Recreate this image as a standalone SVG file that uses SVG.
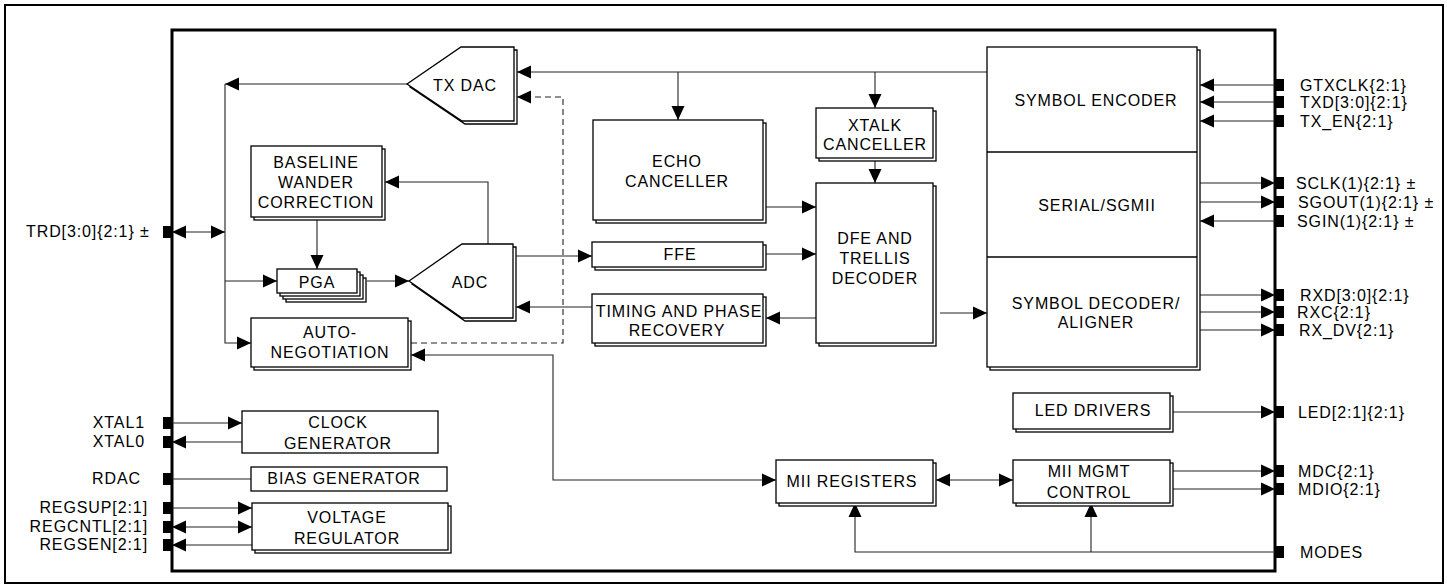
<svg xmlns="http://www.w3.org/2000/svg" width="1447" height="588" viewBox="0 0 1447 588">
<style>
text{font-family:"Liberation Sans",Arial,Helvetica,sans-serif;font-size:16px;letter-spacing:0.9px;fill:#000}
.c{text-anchor:middle}
.e{text-anchor:end}
.bx{fill:#fff;stroke:#000;stroke-width:1.3}
.ln{fill:none;stroke:#222;stroke-width:1.1}
.ds{fill:none;stroke:#222;stroke-width:1.1;stroke-dasharray:6,4}
.pin{fill:#000}
</style>
<defs>
<marker id="a" markerUnits="userSpaceOnUse" markerWidth="14" markerHeight="14" refX="14" refY="7" orient="auto-start-reverse">
<path d="M0,0.5 L14,7 L0,13.5 z" fill="#000"/>
</marker>
</defs>
<rect x="5" y="5" width="1438" height="578" fill="#fff" stroke="#000" stroke-width="2"/>
<rect x="172" y="30" width="1103" height="541" fill="none" stroke="#000" stroke-width="3"/>

<g id="connectors">
<path class="ln" d="M987,72 H517" marker-end="url(#a)"/>
<path class="ln" d="M678,72 V120" marker-end="url(#a)"/>
<path class="ln" d="M875,72 V108" marker-end="url(#a)"/>
<path class="ln" d="M407,84 H225" marker-end="url(#a)"/>
<path class="ln" d="M225,84 V343 H251" marker-end="url(#a)"/>
<path class="ln" d="M225,281 H277" marker-end="url(#a)"/>
<path class="ln" d="M172,232 H225" marker-start="url(#a)" marker-end="url(#a)"/>
<path class="ds" d="M411,343 H563 V97 H517" marker-end="url(#a)"/>
<path class="ln" d="M488,244 V182 H385" marker-end="url(#a)"/>
<path class="ln" d="M317,220 V269" marker-end="url(#a)"/>
<path class="ln" d="M367,281 H409" marker-end="url(#a)"/>
<path class="ln" d="M516,256 H592" marker-end="url(#a)"/>
<path class="ln" d="M592,307 H516" marker-end="url(#a)"/>
<path class="ln" d="M766,207 H816" marker-end="url(#a)"/>
<path class="ln" d="M766,254 H816" marker-end="url(#a)"/>
<path class="ln" d="M816,318 H766" marker-end="url(#a)"/>
<path class="ln" d="M875,161 V183" marker-end="url(#a)"/>
<path class="ln" d="M940,313 H987" marker-end="url(#a)"/>
<path class="ln" d="M1275,85 H1200" marker-end="url(#a)"/>
<path class="ln" d="M1275,102 H1200" marker-end="url(#a)"/>
<path class="ln" d="M1275,121 H1200" marker-end="url(#a)"/>
<path class="ln" d="M1200,183 H1275" marker-end="url(#a)"/>
<path class="ln" d="M1200,202 H1275" marker-end="url(#a)"/>
<path class="ln" d="M1275,221 H1200" marker-end="url(#a)"/>
<path class="ln" d="M1200,295 H1275" marker-end="url(#a)"/>
<path class="ln" d="M1200,312 H1275" marker-end="url(#a)"/>
<path class="ln" d="M1200,330 H1275" marker-end="url(#a)"/>
<path class="ln" d="M1173,412 H1275" marker-end="url(#a)"/>
<path class="ln" d="M1173,471 H1275" marker-end="url(#a)"/>
<path class="ln" d="M1173,489 H1275" marker-end="url(#a)"/>
<path class="ln" d="M1275,552 H855 V503" marker-end="url(#a)"/>
<path class="ln" d="M1091,552 V503" marker-end="url(#a)"/>
<path class="ln" d="M936,480 H1013" marker-start="url(#a)" marker-end="url(#a)"/>
<path class="ln" d="M411,355 H553 V480 H776" marker-start="url(#a)" marker-end="url(#a)"/>
<path class="ln" d="M172,423 H242" marker-end="url(#a)"/>
<path class="ln" d="M250,442 H172" marker-end="url(#a)"/>
<path class="ln" d="M172,479 H251"/>
<path class="ln" d="M172,508 H252" marker-end="url(#a)"/>
<path class="ln" d="M172,527 H252" marker-start="url(#a)" marker-end="url(#a)"/>
<path class="ln" d="M252,545 H172" marker-end="url(#a)"/>
</g>

<g id="pins">
<rect class="pin" x="163" y="226" width="9" height="12"/>
<rect class="pin" x="163" y="417" width="9" height="12"/>
<rect class="pin" x="163" y="436" width="9" height="12"/>
<rect class="pin" x="163" y="473" width="9" height="12"/>
<rect class="pin" x="163" y="502" width="9" height="12"/>
<rect class="pin" x="163" y="521" width="9" height="12"/>
<rect class="pin" x="163" y="539" width="9" height="12"/>
<rect class="pin" x="1275" y="79" width="9" height="12"/>
<rect class="pin" x="1275" y="96" width="9" height="12"/>
<rect class="pin" x="1275" y="115" width="9" height="12"/>
<rect class="pin" x="1275" y="177" width="9" height="12"/>
<rect class="pin" x="1275" y="196" width="9" height="12"/>
<rect class="pin" x="1275" y="215" width="9" height="12"/>
<rect class="pin" x="1275" y="289" width="9" height="12"/>
<rect class="pin" x="1275" y="306" width="9" height="12"/>
<rect class="pin" x="1275" y="324" width="9" height="12"/>
<rect class="pin" x="1275" y="406" width="9" height="12"/>
<rect class="pin" x="1275" y="465" width="9" height="12"/>
<rect class="pin" x="1275" y="483" width="9" height="12"/>
<rect class="pin" x="1275" y="546" width="9" height="12"/>
</g>

<g id="pin-labels">
<text x="26" y="237">TRD[3:0]{2:1} ±</text>
<text class="e" x="145" y="428">XTAL1</text>
<text class="e" x="145" y="447">XTAL0</text>
<text class="e" x="141" y="484">RDAC</text>
<text class="e" x="148" y="513">REGSUP[2:1]</text>
<text class="e" x="148" y="532">REGCNTL[2:1]</text>
<text class="e" x="148" y="550">REGSEN[2:1]</text>
<text x="1300" y="91">GTXCLK{2:1}</text>
<text x="1300" y="108">TXD[3:0]{2:1}</text>
<text x="1300" y="127">TX_EN{2:1}</text>
<text x="1296" y="189">SCLK(1){2:1}  ±</text>
<text x="1298" y="208">SGOUT(1){2:1} ±</text>
<text x="1297" y="227">SGIN(1){2:1} ±</text>
<text x="1300" y="301">RXD[3:0]{2:1}</text>
<text x="1297" y="318">RXC{2:1}</text>
<text x="1299" y="336">RX_DV{2:1}</text>
<text x="1298" y="418">LED[2:1]{2:1}</text>
<text x="1298" y="477">MDC{2:1}</text>
<text x="1298" y="495">MDIO{2:1}</text>
<text x="1300" y="558">MODES</text>
</g>

<g id="txdac">
<path class="bx" d="M410,87 L464,50 H517 V124 H465 z"/>
<path class="bx" d="M407,84 L461,47 H514 V121 H462 z"/>
<text class="c" x="465" y="91">TX DAC</text>
</g>
<g id="baseline">
<rect class="bx" x="254" y="149" width="131" height="71"/>
<rect class="bx" x="251" y="146" width="131" height="71"/>
<text class="c" x="316" y="168">BASELINE</text>
<text class="c" x="316" y="188">WANDER</text>
<text class="c" x="316" y="208">CORRECTION</text>
</g>
<g id="pga">
<rect class="bx" x="286" y="278" width="80" height="24"/>
<rect class="bx" x="283" y="275" width="80" height="24"/>
<rect class="bx" x="280" y="272" width="80" height="24"/>
<rect class="bx" x="277" y="269" width="80" height="24"/>
<text class="c" x="317" y="288">PGA</text>
</g>
<g id="adc">
<path class="bx" d="M412,284 L465,247 H516 V321 H465 z"/>
<path class="bx" d="M409,281 L462,244 H513 V318 H462 z"/>
<text class="c" x="470" y="288">ADC</text>
</g>
<g id="autoneg">
<rect class="bx" x="254" y="321" width="157" height="49"/>
<rect class="bx" x="251" y="318" width="157" height="49"/>
<text class="c" x="330" y="338">AUTO-</text>
<text class="c" x="330" y="358">NEGOTIATION</text>
</g>
<g id="echo">
<rect class="bx" x="596" y="123" width="170" height="100"/>
<rect class="bx" x="593" y="120" width="170" height="100"/>
<text class="c" x="677" y="167">ECHO</text>
<text class="c" x="677" y="187">CANCELLER</text>
</g>
<g id="xtalk">
<rect class="bx" x="819" y="111" width="117" height="50"/>
<rect class="bx" x="816" y="108" width="117" height="50"/>
<text class="c" x="875" y="131">XTALK</text>
<text class="c" x="875" y="150">CANCELLER</text>
</g>
<g id="ffe">
<rect class="bx" x="595" y="245" width="171" height="25"/>
<rect class="bx" x="592" y="242" width="171" height="25"/>
<text class="c" x="680" y="260">FFE</text>
</g>
<g id="timing">
<rect class="bx" x="595" y="297" width="171" height="49"/>
<rect class="bx" x="592" y="294" width="171" height="49"/>
<text class="c" x="679" y="317">TIMING AND PHASE</text>
<text class="c" x="677" y="336">RECOVERY</text>
</g>
<g id="dfe">
<rect class="bx" x="819" y="186" width="117" height="160"/>
<rect class="bx" x="816" y="183" width="117" height="160"/>
<text class="c" x="875" y="244">DFE AND</text>
<text class="c" x="875" y="264">TRELLIS</text>
<text class="c" x="875" y="284">DECODER</text>
</g>
<g id="symbol">
<rect class="bx" x="990" y="50" width="210" height="320"/>
<rect class="bx" x="987" y="47" width="210" height="320"/>
<line x1="987" y1="152" x2="1197" y2="152" stroke="#000" stroke-width="1.3"/>
<line x1="987" y1="257" x2="1197" y2="257" stroke="#000" stroke-width="1.3"/>
<text class="c" x="1096" y="106">SYMBOL ENCODER</text>
<text class="c" x="1097" y="211">SERIAL/SGMII</text>
<text class="c" x="1096" y="309">SYMBOL DECODER/</text>
<text class="c" x="1096" y="328">ALIGNER</text>
</g>
<g id="led">
<rect class="bx" x="1016" y="396" width="157" height="36"/>
<rect class="bx" x="1013" y="393" width="157" height="36"/>
<text class="c" x="1093" y="416">LED DRIVERS</text>
</g>
<g id="miireg">
<rect class="bx" x="779" y="463" width="157" height="43"/>
<rect class="bx" x="776" y="460" width="157" height="43"/>
<text class="c" x="852" y="487">MII REGISTERS</text>
</g>
<g id="miimgmt">
<rect class="bx" x="1016" y="463" width="157" height="43"/>
<rect class="bx" x="1013" y="460" width="157" height="43"/>
<text class="c" x="1089" y="477">MII MGMT</text>
<text class="c" x="1089" y="498">CONTROL</text>
</g>
<g id="clock">
<rect class="bx" x="242" y="411" width="196" height="42"/>
<text class="c" x="338" y="428">CLOCK</text>
<text class="c" x="338" y="449">GENERATOR</text>
</g>
<g id="bias">
<rect class="bx" x="251" y="467" width="196" height="24"/>
<text class="c" x="344" y="484">BIAS GENERATOR</text>
</g>
<g id="vreg">
<rect class="bx" x="255" y="506" width="196" height="47"/>
<rect class="bx" x="252" y="503" width="196" height="47"/>
<text class="c" x="347" y="523">VOLTAGE</text>
<text class="c" x="347" y="544">REGULATOR</text>
</g>
</svg>
